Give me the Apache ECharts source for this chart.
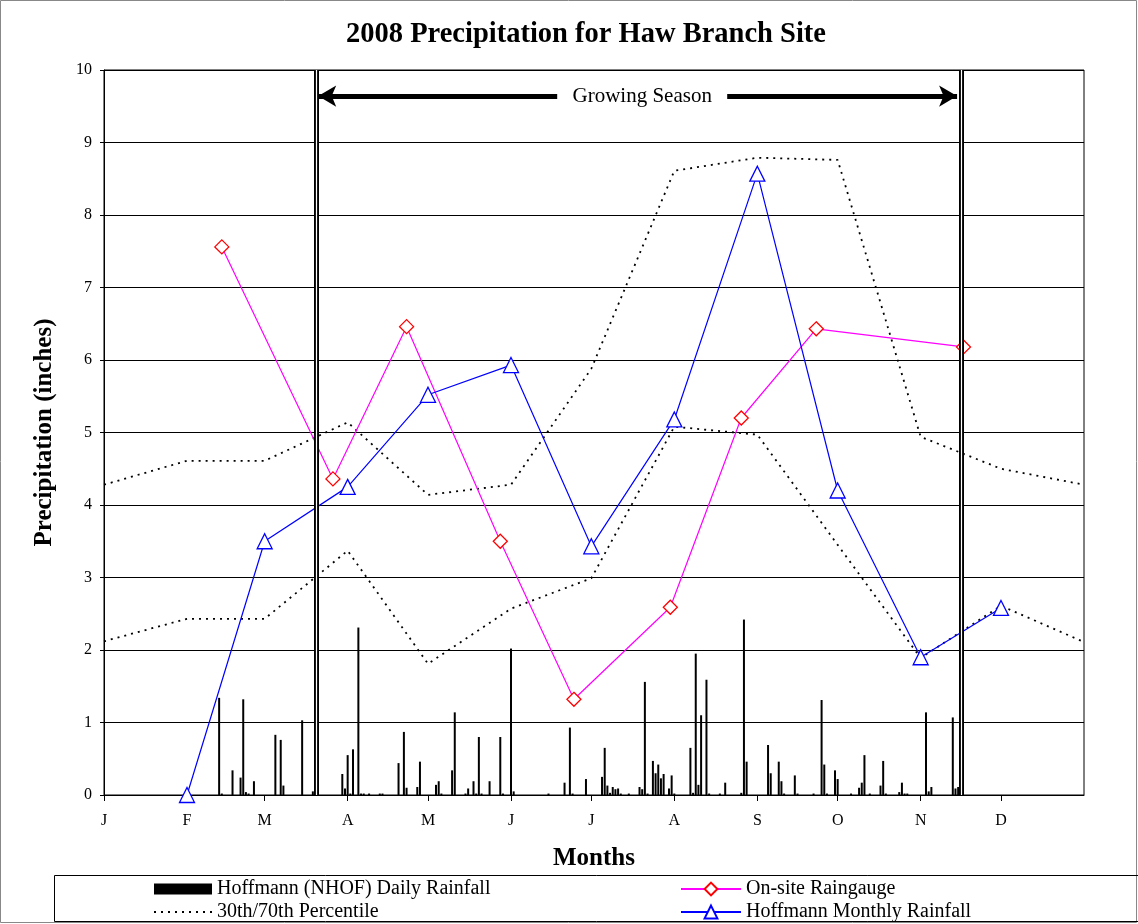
<!DOCTYPE html>
<html>
<head>
<meta charset="utf-8">
<script src="https://cdn.jsdelivr.net/npm/echarts@6/dist/echarts.min.js"></script>
<style>
html,body{margin:0;padding:0;background:#fff;}
#chart{width:1138px;height:924px;}
</style>
</head>
<body>
<div id="chart"></div>
<script>
const monthLabels = ['J','F','M','A','M','J','J','A','S','O','N','D'];
const monthStartDays = [0,31,60,91,121,152,182,213,244,274,305,335];

const pctDays = [0,31,60,91,121,152,182,213,244,274,305,335,366];
const pct70 = [4.28,4.61,4.61,5.14,4.14,4.28,5.88,8.61,8.79,8.76,4.94,4.5,4.28];
const pct30 = [2.12,2.43,2.43,3.37,1.81,2.57,2.99,5.08,4.97,3.45,1.89,2.61,2.11];

const monthlyDays = [31,60,91,121,152,182,213,244,274,305,335];
const monthlyRain = [0,3.5,4.25,5.52,5.93,3.43,5.18,8.57,4.2,1.9,2.58];

const gaugeDays = [44,85.5,113,148,175.5,211.5,238,266,321];
const gaugeRain = [7.56,4.36,6.46,3.5,1.32,2.59,5.2,6.43,6.18];

const dailyDays = [43,44,48,51,52,53,54,56,64,66,67,74,78,79,
  89,90,91,92,93,95,96,97,99,103,104,110,112,113,117,118,
  124,125,126,130,131,135,136,138,139,140,141,144,148,149,
  152,153,166,172,174,175,180,
  186,187,188,189,190,191,192,193,196,200,201,202,203,205,206,207,208,209,211,212,213,
  219,220,221,222,223,225,226,230,232,238,239,240,
  248,249,252,253,254,258,259,265,268,269,270,273,274,
  279,282,283,284,286,290,291,292,297,298,299,300,
  307,308,309,317,318,319];
const dailyRain = [1.34,0.02,0.34,0.24,1.32,0.04,0.02,0.19,0.83,0.76,0.13,1.03,0.05,0.55,
  0.29,0.09,0.55,0.02,0.63,2.31,0.02,0.02,0.02,0.02,0.02,0.44,0.87,0.1,0.11,0.46,
  0.14,0.19,0.02,0.34,1.14,0.02,0.09,0.19,0.02,0.8,0.02,0.19,0.8,0.02,
  2.02,0.05,0.02,0.17,0.93,0.02,0.22,
  0.25,0.65,0.13,0.03,0.11,0.08,0.09,0.02,0.02,0.11,0.08,1.56,0.02,0.47,0.3,0.42,0.23,0.29,0.09,0.27,0.02,
  0.65,0.03,1.95,0.14,1.1,1.59,0.02,0.02,0.17,0.03,2.42,0.46,
  0.69,0.3,0.46,0.19,0.02,0.27,0.02,0.02,1.31,0.42,0.02,0.34,0.22,
  0.02,0.1,0.17,0.55,0.02,0.13,0.47,0.02,0.04,0.17,0.02,0.02,
  1.14,0.05,0.11,1.07,0.09,0.11];

const seasonStart = 79.2, seasonEnd = 320;
const arrowStart = 80, arrowEnd = 318.6, arrowLevel = 9.64, seasonLabelDay = 201;

const zip = (xs, ys) => xs.map((x, i) => [x, ys[i]]);
const FONT = "'Liberation Serif','Times New Roman',serif";

const chart = echarts.init(document.getElementById('chart'), null, {renderer:'canvas'});
chart.setOption({
  animation: false,
  backgroundColor: '#fff',
  title: {
    text: '2008 Precipitation for Haw Branch Site',
    left: 341, top: 15,
    textStyle: {fontFamily: FONT, fontSize: 28.5, fontWeight: 'bold', color: '#000'}
  },
  grid: {left: 104, right: 54, top: 70, bottom: 129, show: true, borderColor: '#000', borderWidth: 1, backgroundColor: 'transparent'},
  legend: [
    {
      left: 153, top: 879, height: 50, padding: 0, orient: 'vertical', itemWidth: 58, itemHeight: 11, itemGap: 3,
      selectedMode: false,
      textStyle: {fontFamily: FONT, fontSize: 20, color: '#000'},
      data: [
        {name: 'Hoffmann (NHOF) Daily Rainfall', icon: 'rect'},
        {name: '30th/70th Percentile', itemStyle: {opacity: 0, color: 'rgba(0,0,0,0)', borderWidth: 0}}
      ]
    },
    {
      left: 680, top: 879, height: 50, padding: 0, orient: 'vertical', itemWidth: 60, itemHeight: 16, itemGap: 3,
      selectedMode: false,
      textStyle: {fontFamily: FONT, fontSize: 20, color: '#000'},
      data: ['On-site Raingauge', 'Hoffmann Monthly Rainfall']
    }
  ],
  xAxis: {
    type: 'value', min: 0, max: 366,
    name: 'Months', nameLocation: 'middle', nameGap: 51,
    nameTextStyle: {fontFamily: FONT, fontSize: 25, fontWeight: 'bold', color: '#000'},
    axisLine: {show: true, lineStyle: {color: '#000', width: 1}},
    axisTick: {show: true, length: 6, customValues: monthStartDays, lineStyle: {color: '#000'}},
    axisLabel: {
      customValues: monthStartDays, margin: 18,
      fontFamily: FONT, fontSize: 16, color: '#000',
      formatter: v => monthLabels[monthStartDays.indexOf(v)] || ''
    },
    splitLine: {show: false}
  },
  yAxis: {
    type: 'value', min: 0, max: 10, interval: 1,
    name: 'Precipitation (inches)', nameLocation: 'middle', nameGap: 47, nameRotate: 90,
    nameTextStyle: {fontFamily: FONT, fontSize: 25, fontWeight: 'bold', color: '#000'},
    axisLine: {show: true, lineStyle: {color: '#000', width: 1}},
    axisTick: {show: true, length: 4, lineStyle: {color: '#000'}},
    axisLabel: {margin: 12, fontFamily: FONT, fontSize: 16, color: '#000'},
    splitLine: {show: true, lineStyle: {color: '#000', width: 1}}
  },
  graphic: [
    {type: 'rect', shape: {x: 0.5, y: 0.5, width: 1136, height: 922}, style: {fill: 'none', stroke: '#888', lineWidth: 1}, silent: true},
    {type: 'rect', shape: {x: 54.5, y: 875.5, width: 1090, height: 46}, style: {fill: 'none', stroke: '#000', lineWidth: 1}, silent: true}
  ],
  series: [
    {
      name: 'seasonBlack', type: 'line', data: [], z: 1, silent: true,
      markLine: {silent: true, symbol: 'none', label: {show: false},
        lineStyle: {color: '#000', width: 5, type: 'solid'},
        data: [{xAxis: seasonStart}, {xAxis: seasonEnd}]}
    },
    {
      name: 'seasonWhite', type: 'line', data: [], z: 1, silent: true,
      markLine: {silent: true, symbol: 'none', label: {show: false},
        lineStyle: {color: '#fff', width: 1.2, type: 'solid'},
        data: [{xAxis: seasonStart}, {xAxis: seasonEnd}]}
    },
    {
      name: 'Hoffmann (NHOF) Daily Rainfall', type: 'bar', barWidth: 2, z: 2,
      itemStyle: {color: '#000'},
      data: zip(dailyDays, dailyRain)
    },
    {
      name: '30th/70th Percentile', type: 'line', symbol: 'none', z: 3,
      lineStyle: {color: '#000', width: 1.8, type: [2, 5]},
      itemStyle: {color: '#000'},
      data: zip(pctDays, pct70)
    },
    {
      name: '30th/70th Percentile', type: 'line', symbol: 'none', z: 3,
      lineStyle: {color: '#000', width: 1.8, type: [2, 5]},
      itemStyle: {color: '#000'},
      data: zip(pctDays, pct30)
    },
    {
      name: 'On-site Raingauge', type: 'line', symbol: 'diamond', symbolSize: 14, z: 4,
      lineStyle: {color: '#FF00FF', width: 1.2},
      itemStyle: {color: '#fff', borderColor: '#FF0000', borderWidth: 1.3},
      data: zip(gaugeDays, gaugeRain)
    },
    {
      name: 'Hoffmann Monthly Rainfall', type: 'line', symbol: 'triangle', symbolSize: 15, z: 4,
      lineStyle: {color: '#0000FF', width: 1.2},
      itemStyle: {color: '#fff', borderColor: '#0000FF', borderWidth: 1.3},
      data: zip(monthlyDays, monthlyRain)
    },
    {
      name: 'seasonArrow', type: 'line', data: [], z: 5, silent: true,
      markLine: {
        silent: true, symbol: ['arrow', 'arrow'], symbolSize: [16, 18],
        lineStyle: {color: '#000', width: 5, type: 'solid'},
        label: {show: false},
        data: [[{coord: [arrowStart, arrowLevel]}, {coord: [arrowEnd, arrowLevel]}]]
      },
      markPoint: {
        silent: true, symbol: 'rect', symbolSize: [170, 26],
        itemStyle: {color: '#fff'},
        label: {show: true, position: 'inside', formatter: 'Growing Season',
          fontFamily: FONT, fontSize: 21, color: '#000'},
        data: [{coord: [seasonLabelDay, arrowLevel]}]
      }
    }
  ]
});
</script>
</body>
</html>
